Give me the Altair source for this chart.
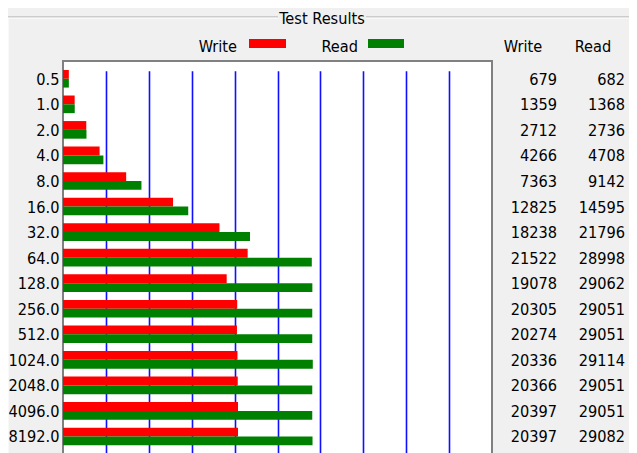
import altair as alt
import pandas as pd

# ---------------- data ----------------
block_sizes = ["0.5", "1.0", "2.0", "4.0", "8.0", "16.0", "32.0", "64.0",
               "128.0", "256.0", "512.0", "1024.0", "2048.0", "4096.0", "8192.0"]
write_speed = [679, 1359, 2712, 4266, 7363, 12825, 18238, 21522,
               19078, 20305, 20274, 20336, 20366, 20397, 20397]
read_speed = [682, 1368, 2736, 4708, 9142, 14595, 21796, 28998,
              29062, 29051, 29051, 29114, 29051, 29051, 29082]
series_names = ["Write", "Read"]
series_colors = ["#ff0000", "#008000"]
x_max = 50000
grid_values = [5000, 10000, 15000, 20000, 25000, 30000, 35000, 40000, 45000]
title_text = "Test Results"

long_df = pd.DataFrame({
    "size": block_sizes * 2,
    "series": ["Write"] * len(block_sizes) + ["Read"] * len(block_sizes),
    "value": write_speed + read_speed,
})
wide_df = pd.DataFrame({"size": block_sizes, "write": write_speed, "read": read_speed})

# ---------------- layout / style ----------------
FONT = "DejaVu Sans Condensed, DejaVu Sans, sans-serif"
FS = 16.2
W, H = 429, 398
FRAME = "#a8a8a8"

y_enc = alt.Y(
    "size:N",
    sort=block_sizes,
    scale=alt.Scale(domain=block_sizes, range=[5, 388.25], paddingInner=0, paddingOuter=0),
    axis=alt.Axis(title=None, ticks=False, domain=False, labelFont=FONT,
                  labelFontSize=FS, labelColor="black", labelPadding=4,
                  labelBaseline="middle", labelOffset=1),
)
color_scale = alt.Scale(domain=series_names, range=series_colors)

bars = alt.Chart(long_df).mark_bar(strokeWidth=0).encode(
    x=alt.X("value:Q",
            scale=alt.Scale(domain=[0, x_max], nice=False, zero=True),
            axis=alt.Axis(values=grid_values, labels=False, ticks=False, domain=False,
                          grid=True, gridColor="#1010ff", gridWidth=1.6, title=None)),
    y=y_enc,
    yOffset=alt.YOffset("series:N", sort=series_names,
                        scale=alt.Scale(domain=series_names, paddingInner=0, paddingOuter=0.45)),
    color=alt.Color("series:N", scale=color_scale, legend=None),
)

text_common = dict(font=FONT, fontSize=FS, color="black", align="right", baseline="middle", dy=1)
write_col = alt.Chart(wide_df).mark_text(**text_common).encode(
    y=y_enc, x=alt.value(494), text=alt.Text("write:Q", format="d"))
read_col = alt.Chart(wide_df).mark_text(**text_common).encode(
    y=y_enc, x=alt.value(562), text=alt.Text("read:Q", format="d"))

one = alt.Data(values=[{"k": 1}])

# group box frame
frame_layers = []
for (x1, x2, y1, y2, col) in [
    (-56, 215, -44, -44, FRAME), (303, 571, -44, -44, FRAME),
    (-55, 215, -43, -43, "white"), (303, 570, -43, -43, "white"),
    (-56, -56, -44, H, FRAME), (-55, -55, -43, H, "white"),
    (571, 571, -44, H, FRAME), (572, 572, -44, H, "white"),
]:
    frame_layers.append(
        alt.Chart(one).mark_rule(color=col, strokeWidth=1).encode(
            x=alt.value(x1), x2=alt.value(x2), y=alt.value(y1), y2=alt.value(y2)))

title = alt.Chart(one).mark_text(font=FONT, fontSize=FS, color="black",
                                 align="center", baseline="alphabetic").encode(
    x=alt.value(259), y=alt.value(-37), text=alt.value(title_text))

# legend (label left of swatch) and column headers
legend_layers = []
legend_text_x = {"Write": 174, "Read": 295}
legend_sw_x = {"Write": (186, 223), "Read": (305, 341)}
header_x = {"Write": 460, "Read": 530}
for name in series_names:
    d = alt.Data(values=[{"series": name}])
    legend_layers.append(alt.Chart(d).mark_text(
        font=FONT, fontSize=FS, color="black", align="right", baseline="alphabetic").encode(
        x=alt.value(legend_text_x[name]), y=alt.value(-9), text="series:N"))
    legend_layers.append(alt.Chart(d).mark_rect().encode(
        x=alt.value(legend_sw_x[name][0]), x2=alt.value(legend_sw_x[name][1]),
        y=alt.value(-22), y2=alt.value(-13),
        color=alt.Color("series:N", scale=color_scale, legend=None)))
    legend_layers.append(alt.Chart(d).mark_text(
        font=FONT, fontSize=FS, color="black", align="center", baseline="alphabetic").encode(
        x=alt.value(header_x[name]), y=alt.value(-9), text="series:N"))

chart = alt.layer(
    bars, write_col, read_col, title, *frame_layers, *legend_layers
).properties(
    width=W, height=H,
    padding={"left": 55, "top": 53, "right": 137, "bottom": 0},
    autosize=alt.AutoSizeParams(type="none"),
    background="#f0f0f0",
).configure_view(fill="white", stroke="#808080", strokeWidth=2)

chart.save("out.html", embed_options={"renderer": "svg", "actions": False})
